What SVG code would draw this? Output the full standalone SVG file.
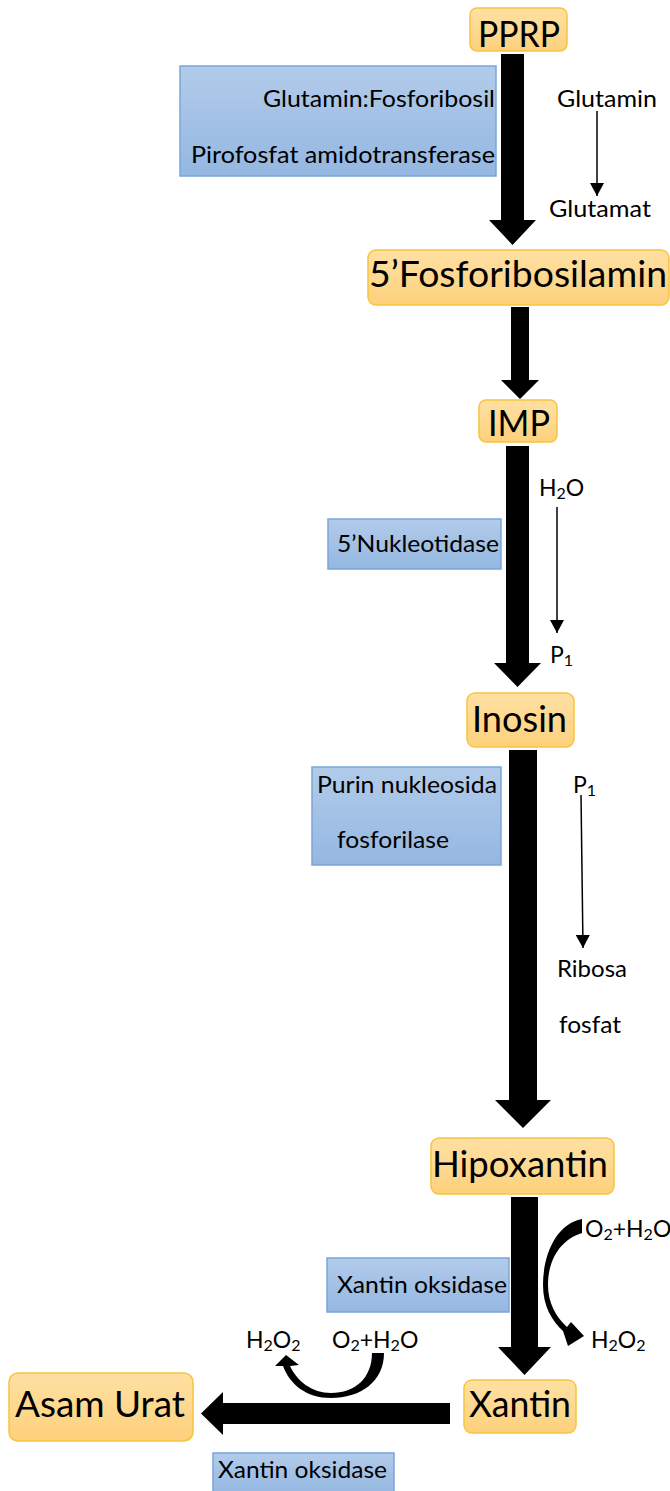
<svg xmlns="http://www.w3.org/2000/svg" width="670" height="1491" viewBox="0 0 670 1491">
<defs>
<linearGradient id="gNode" x1="0" y1="0" x2="0" y2="1">
<stop offset="0" stop-color="#ffe0a3"/>
<stop offset="1" stop-color="#fdd17c"/>
</linearGradient>
<linearGradient id="gEnz" x1="0" y1="0" x2="0" y2="1">
<stop offset="0" stop-color="#b2cbea"/>
<stop offset="1" stop-color="#94b7e1"/>
</linearGradient>
<marker id="ah" markerUnits="userSpaceOnUse" markerWidth="16" markerHeight="14" refX="13" refY="7" orient="auto">
<path d="M0,0 L13,7 L0,14 Z" fill="#000"/>
</marker>
<style>
.node rect{fill:url(#gNode);stroke:#f8c43f;stroke-width:1.5}
.enz rect{fill:url(#gEnz);stroke:#7ba5da;stroke-width:1.5}
.nt{font-family:Lato,"Liberation Sans",sans-serif;font-size:36px;fill:#000;text-anchor:middle}
.et{font-family:Lato,"Liberation Sans",sans-serif;font-size:23px;fill:#000}
.lt{font-family:Lato,"Liberation Sans",sans-serif;font-size:23px;fill:#000}
.sub{font-size:16px}
.big{fill:#000;stroke:none}
.thin{stroke:#000;stroke-width:1.5;fill:none;marker-end:url(#ah)}
</style>
</defs>
<rect width="670" height="1491" fill="#fff"/>

<g id="connectors">
<polygon class="big" points="501,54 524,54 524,220 536,220 512.5,245 489,220 501,220"/>
<polygon class="big" points="511,307 529,307 529,380 539,380 520,399 501,380 511,380"/>
<polygon class="big" points="506,446 529,446 529,663 541,663 517.5,687 494,663 506,663"/>
<polygon class="big" points="509,750 537,750 537,1100 551,1100 523,1128 495,1100 509,1100"/>
<polygon class="big" points="511,1197 538,1197 538,1347 551,1347 524.5,1375 498,1347 511,1347"/>
<polygon class="big" points="450,1403 450,1424 223,1424 223,1435 201,1413.5 223,1392 223,1403"/>
<line class="thin" x1="597" y1="111" x2="597" y2="196"/>
<line class="thin" x1="557" y1="507" x2="557" y2="633"/>
<line class="thin" x1="581" y1="795" x2="583" y2="948"/>
<path class="big" d="M582 1219 C556 1224 543 1255 543 1285 C543 1306 552 1321 563 1331 L568 1346 L584 1336 L571 1322 L567 1327 C556 1317 548 1303 548 1285 C548 1260 560 1240 582 1233 Z"/>
<path class="big" d="M384 1353 C384 1382 360 1398 331 1398 C307 1398 290 1385 283 1366 L275 1366 L286 1355 L299 1365 L290 1366 C297 1381 312 1393 331 1393 C355 1393 372 1378 372 1353 Z"/>
</g>

<g id="node-pprp" class="node"><rect x="470" y="8" width="97" height="43" rx="7"/><text class="nt" x="519" y="47" textLength="82" lengthAdjust="spacingAndGlyphs">PPRP</text></g>
<g id="node-fosforibosilamin" class="node"><rect x="368" y="250" width="301" height="55" rx="8"/><text class="nt" x="518" y="287" textLength="298" lengthAdjust="spacingAndGlyphs">5’Fosforibosilamin</text></g>
<g id="node-imp" class="node"><rect x="479" y="400" width="78" height="42" rx="7"/><text class="nt" x="519" y="436" textLength="62" lengthAdjust="spacingAndGlyphs">IMP</text></g>
<g id="node-inosin" class="node"><rect x="467" y="693" width="107" height="54" rx="8"/><text class="nt" x="519.5" y="732" textLength="95" lengthAdjust="spacingAndGlyphs">Inosin</text></g>
<g id="node-hipoxantin" class="node"><rect x="431" y="1138" width="183" height="56" rx="8"/><text class="nt" x="520" y="1177" textLength="176" lengthAdjust="spacingAndGlyphs">Hipoxantin</text></g>
<g id="node-xantin" class="node"><rect x="464" y="1380" width="112" height="53" rx="8"/><text class="nt" x="520" y="1417" textLength="102" lengthAdjust="spacingAndGlyphs">Xantin</text></g>
<g id="node-asam-urat" class="node"><rect x="9" y="1373" width="184" height="68" rx="9"/><text class="nt" x="100" y="1417" textLength="170" lengthAdjust="spacingAndGlyphs">Asam Urat</text></g>

<g id="enzyme-amidotransferase" class="enz"><rect x="180" y="66" width="316" height="110"/>
<text class="et" x="263" y="107" textLength="232" lengthAdjust="spacingAndGlyphs">Glutamin:Fosforibosil</text>
<text class="et" x="191" y="163" textLength="304" lengthAdjust="spacingAndGlyphs">Pirofosfat amidotransferase</text></g>
<g id="enzyme-nukleotidase" class="enz"><rect x="328" y="519" width="173" height="50"/>
<text class="et" x="337" y="552" textLength="162" lengthAdjust="spacingAndGlyphs">5’Nukleotidase</text></g>
<g id="enzyme-pnp" class="enz"><rect x="312" y="767" width="189" height="98"/>
<text class="et" x="317" y="793" textLength="180" lengthAdjust="spacingAndGlyphs">Purin nukleosida</text>
<text class="et" x="337" y="848" textLength="112" lengthAdjust="spacingAndGlyphs">fosforilase</text></g>
<g id="enzyme-xo1" class="enz"><rect x="327" y="1258" width="182" height="54"/>
<text class="et" x="337" y="1293" textLength="170" lengthAdjust="spacingAndGlyphs">Xantin oksidase</text></g>
<g id="enzyme-xo2" class="enz"><rect x="213" y="1453" width="181" height="42"/>
<text class="et" x="218" y="1478" textLength="169" lengthAdjust="spacingAndGlyphs">Xantin oksidase</text></g>

<g id="labels">
<text class="lt" x="557" y="107" textLength="100" lengthAdjust="spacingAndGlyphs">Glutamin</text>
<text class="lt" x="549" y="217" textLength="102" lengthAdjust="spacingAndGlyphs">Glutamat</text>
<text class="lt" x="539" y="496">H<tspan class="sub" dy="3">2</tspan><tspan dy="-3">O</tspan></text>
<text class="lt" x="550" y="663">P<tspan class="sub" dy="3">1</tspan></text>
<text class="lt" x="573" y="793">P<tspan class="sub" dy="3">1</tspan></text>
<text class="lt" x="557" y="977" textLength="70" lengthAdjust="spacingAndGlyphs">Ribosa</text>
<text class="lt" x="559" y="1033" textLength="62" lengthAdjust="spacingAndGlyphs">fosfat</text>
<text class="lt" x="585" y="1237">O<tspan class="sub" dy="3">2</tspan><tspan dy="-3">+H</tspan><tspan class="sub" dy="3">2</tspan><tspan dy="-3">O</tspan></text>
<text class="lt" x="591" y="1348">H<tspan class="sub" dy="3">2</tspan><tspan dy="-3">O</tspan><tspan class="sub" dy="3">2</tspan></text>
<text class="lt" x="246" y="1348">H<tspan class="sub" dy="3">2</tspan><tspan dy="-3">O</tspan><tspan class="sub" dy="3">2</tspan></text>
<text class="lt" x="332" y="1348">O<tspan class="sub" dy="3">2</tspan><tspan dy="-3">+H</tspan><tspan class="sub" dy="3">2</tspan><tspan dy="-3">O</tspan></text>
</g>
</svg>
